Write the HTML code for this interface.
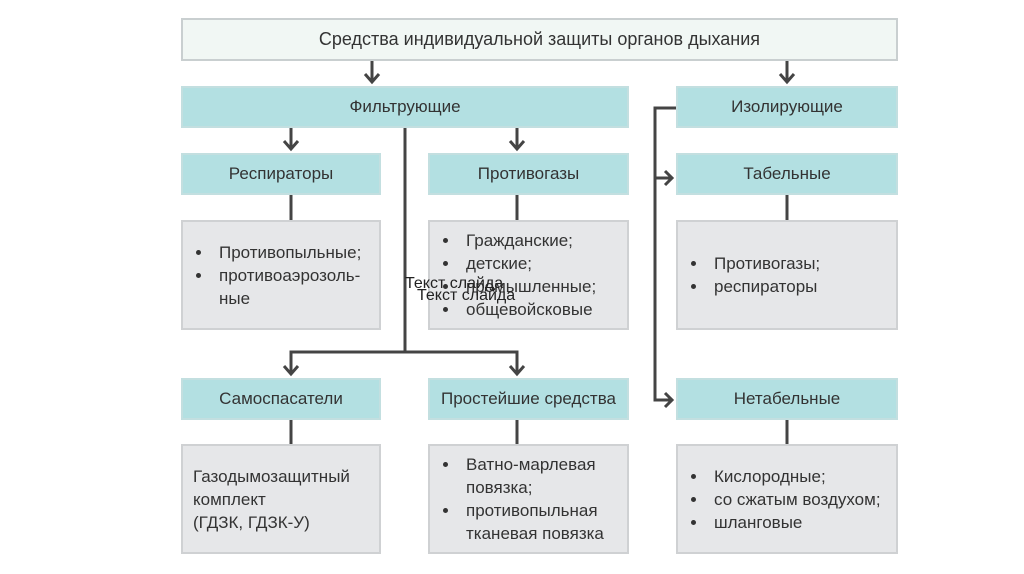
<!DOCTYPE html>
<html><head><meta charset="utf-8"><style>
body{margin:0;width:1024px;height:574px;background:#fff;position:relative;overflow:hidden;font-family:"Liberation Sans","DejaVu Sans",sans-serif;color:#333}
.b{position:absolute;box-sizing:border-box;border:2px solid #c9cfd0;display:flex;align-items:center;justify-content:center;font-size:17px}
.t{background:#b3e0e2;border-color:#c3dfe0}
.g{background:#e6e7e9;border-color:#cfd1d3;justify-content:flex-start;align-items:center;padding-left:12px;font-size:17px;line-height:23px}
ul{margin:0;padding-left:18px}
li{padding-left:6px}
svg{position:absolute;left:0;top:0}
.o{position:absolute;font-size:16px;color:#222}
</style></head><body>
<div class="b" style="left:181px;top:18px;width:717px;height:43px;background:#f1f7f4;font-size:18px">Средства индивидуальной защиты органов дыхания</div>
<div class="b t" style="left:181px;top:86px;width:448px;height:42px">Фильтрующие</div>
<div class="b t" style="left:676px;top:86px;width:222px;height:42px">Изолирующие</div>
<div class="b t" style="left:181px;top:153px;width:200px;height:42px">Респираторы</div>
<div class="b t" style="left:428px;top:153px;width:201px;height:42px">Противогазы</div>
<div class="b t" style="left:676px;top:153px;width:222px;height:42px">Табельные</div>
<div class="b g" style="left:181px;top:220px;width:200px;height:110px"><ul><li>Противопыльные;</li><li>противоаэрозоль-ные</li></ul></div>
<div class="b g" style="left:428px;top:220px;width:201px;height:110px"><ul><li>Гражданские;</li><li>детские;</li><li>промышленные;</li><li>общевойсковые</li></ul></div>
<div class="b g" style="left:676px;top:220px;width:222px;height:110px"><ul><li>Противогазы;</li><li>респираторы</li></ul></div>
<div class="b t" style="left:181px;top:378px;width:200px;height:42px">Самоспасатели</div>
<div class="b t" style="left:428px;top:378px;width:201px;height:42px">Простейшие средства</div>
<div class="b t" style="left:676px;top:378px;width:222px;height:42px">Нетабельные</div>
<div class="b g" style="left:181px;top:444px;width:200px;height:110px;padding-left:10px">Газодымозащитный<br>комплект<br>(ГДЗК, ГДЗК-У)</div>
<div class="b g" style="left:428px;top:444px;width:201px;height:110px"><ul><li>Ватно-марлевая повязка;</li><li>противопыльная тканевая повязка</li></ul></div>
<div class="b g" style="left:676px;top:444px;width:222px;height:110px"><ul><li>Кислородные;</li><li>со сжатым воздухом;</li><li>шланговые</li></ul></div>
<svg width="1024" height="574" fill="none" stroke="#444" stroke-width="3">
<path d="M372 61V82M365 74l7 8 7-8M787 61V82M780 74l7 8 7-8"/>
<path d="M291 128V149M284 141l7 8 7-8M517 128V149M510 141l7 8 7-8"/>
<path d="M405 128V352M291 374V352H517V374M284 366l7 8 7-8M510 366l7 8 7-8"/>
<path d="M291 195V220M517 195V220M787 195V220M291 420V444M517 420V444M787 420V444"/>
<path d="M676 108H655V400H672M655 178H672M665 171l7 7-7 7M665 393l7 7-7 7"/>
</svg>
<div class="o" style="left:405px;top:275px">Текст слайда</div>
<div class="o" style="left:417px;top:287px">Текст слайда</div>
</body></html>
